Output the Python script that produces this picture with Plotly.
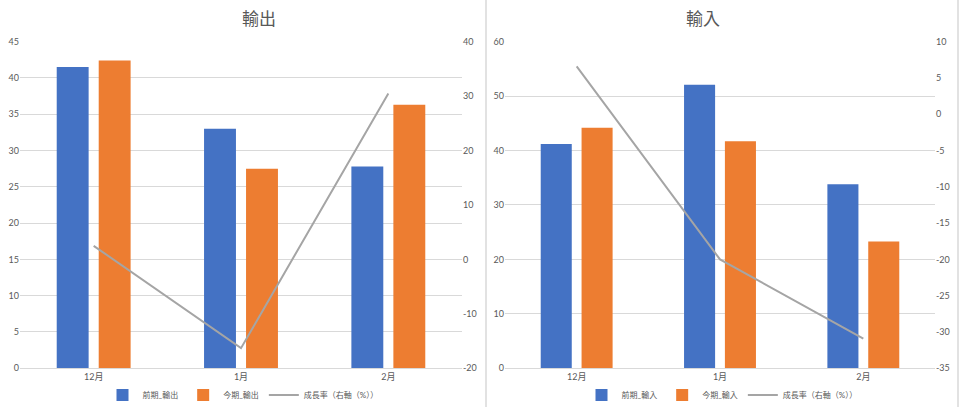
import plotly.graph_objects as go

# chart values
months = ["12月", "1月", "2月"]

export_prev = [41.5, 33.0, 27.8]
export_curr = [42.4, 27.5, 36.3]
export_growth = [2.5, -16.3, 30.5]

import_prev = [41.2, 52.1, 33.8]
import_curr = [44.2, 41.7, 23.3]
import_growth = [6.6, -20.0, -30.9]

# right-axis ticks (Excel shows a plain hyphen for negatives)
export_rate_ticks = [-20, -10, 0, 10, 20, 30, 40]
import_rate_ticks = [-35, -30, -25, -20, -15, -10, -5, 0, 5, 10]

BLUE = "#4472C4"
ORANGE = "#ED7D31"
GREY = "#A5A5A5"
TEXT = "#595959"
GRID = "#D9D9D9"
FONT = "Lato, Noto Sans CJK TC, sans-serif"

W, H = 960, 410


def px_x(v):
    return v / W


def px_y(v):
    return (H - v) / H


fig = go.Figure()

# left chart: 輸出
fig.add_trace(go.Bar(x=months, y=export_prev, name="前期_輸出", marker_color=BLUE,
                     xaxis="x", yaxis="y", legend="legend", offsetgroup="a"))
fig.add_trace(go.Bar(x=months, y=export_curr, name="今期_輸出", marker_color=ORANGE,
                     xaxis="x", yaxis="y", legend="legend", offsetgroup="b"))
fig.add_trace(go.Scatter(x=months, y=export_growth, name="成長率（右軸（%））", mode="lines",
                         line=dict(color=GREY, width=2), xaxis="x", yaxis="y2", legend="legend"))

# right chart: 輸入
fig.add_trace(go.Bar(x=months, y=import_prev, name="前期_輸入", marker_color=BLUE,
                     xaxis="x2", yaxis="y3", legend="legend2", offsetgroup="a"))
fig.add_trace(go.Bar(x=months, y=import_curr, name="今期_輸入", marker_color=ORANGE,
                     xaxis="x2", yaxis="y3", legend="legend2", offsetgroup="b"))
fig.add_trace(go.Scatter(x=months, y=import_growth, name="成長率（右軸（%））", mode="lines",
                         line=dict(color=GREY, width=2), xaxis="x2", yaxis="y4", legend="legend2"))

ydom = [px_y(371), px_y(42)]
tickfont = dict(size=9, color=TEXT, family=FONT)
legendfont = dict(size=8, color=TEXT, family=FONT)

common_x = dict(showgrid=False, zeroline=False, showline=True, linecolor=GRID,
                ticks="", tickfont=tickfont, fixedrange=True, automargin=False)
common_y = dict(zeroline=False, showline=False, ticks="", tickfont=tickfont,
                automargin=False, fixedrange=True)

fig.update_layout(
    template="none",
    width=W, height=H,
    margin=dict(l=0, r=0, t=0, b=0, pad=0),
    paper_bgcolor="white", plot_bgcolor="white",
    font=dict(family=FONT, color=TEXT),
    barmode="group", bargap=0.43, bargroupgap=0.24,
    xaxis=dict(domain=[px_x(20), px_x(462)], anchor="y", **common_x),
    yaxis=dict(domain=ydom, anchor="x", range=[0, 45], dtick=5,
               showgrid=True, gridcolor=GRID, **common_y),
    yaxis2=dict(overlaying="y", side="right", anchor="x", range=[-20, 40],
                tickvals=export_rate_ticks, ticktext=[str(v) for v in export_rate_ticks],
                showgrid=False, **common_y),
    xaxis2=dict(domain=[px_x(505), px_x(935)], anchor="y3", **common_x),
    yaxis3=dict(domain=ydom, anchor="x2", range=[0, 60], dtick=10,
                showgrid=True, gridcolor=GRID, **common_y),
    yaxis4=dict(overlaying="y3", side="right", anchor="x2", range=[-35, 10],
                tickvals=import_rate_ticks, ticktext=[str(v) for v in import_rate_ticks],
                showgrid=False, **common_y),
    legend=dict(orientation="h", x=px_x(243), y=px_y(398), xanchor="center", yanchor="middle",
                font=legendfont, bgcolor="rgba(0,0,0,0)",
                itemwidth=30, traceorder="normal"),
    legend2=dict(orientation="h", x=px_x(722), y=px_y(398), xanchor="center", yanchor="middle",
                 font=legendfont, bgcolor="rgba(0,0,0,0)",
                 itemwidth=30, traceorder="normal"),
    annotations=[
        dict(text="輸出", x=px_x(240), y=px_y(19), xref="paper", yref="paper",
             yanchor="middle", showarrow=False, font=dict(size=17, color=TEXT, family=FONT)),
        dict(text="輸入", x=px_x(722), y=px_y(19), xref="paper", yref="paper",
             yanchor="middle", showarrow=False, font=dict(size=17, color=TEXT, family=FONT)),
    ],
    shapes=[
        dict(type="line", xref="paper", yref="paper", x0=px_x(486), x1=px_x(486), y0=0, y1=1,
             line=dict(color=GRID, width=1.5)),
        dict(type="line", xref="paper", yref="paper", x0=px_x(958), x1=px_x(958), y0=0, y1=1,
             line=dict(color=GRID, width=1.5)),
    ],
    showlegend=True,
)

fig.write_html("out.html", config={"displayModeBar": False},
               post_script="document.body.style.margin='0';")
